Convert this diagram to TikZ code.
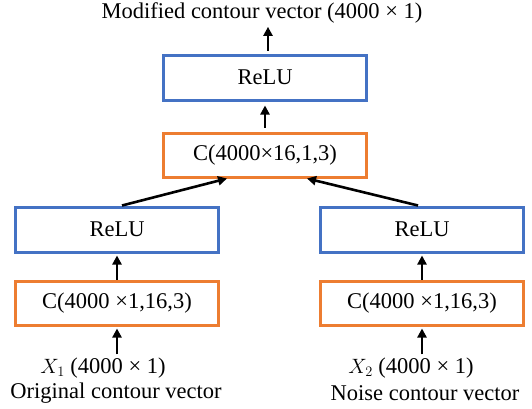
\documentclass[tikz,border=0pt]{standalone}
\usepackage{fontspec}
\setmainfont{Liberation Serif}
\usetikzlibrary{arrows.meta}
\definecolor{relublue}{RGB}{68,114,196}
\definecolor{convorange}{RGB}{237,125,49}

\begin{document}
\begin{tikzpicture}[x=1pt, y=-1pt, every node/.style={font=\fontsize{22.5}{26}\selectfont},
  relubox/.style={draw=relublue, line width=3pt, minimum width=203pt, minimum height=45pt},
  convbox/.style={draw=convorange, line width=3pt, minimum width=203pt, minimum height=44pt},
  arr/.style={-{Triangle[length=9pt,width=9pt]}, line width=2.6pt}]
\useasboundingbox (0,0) rectangle (532,408);
% two input branches
\node[convbox] (c1) at (117,303) {C(4000 ×1,16,3)};
\node[relubox] (relu1) at (117,229.5) {ReLU};
\node (in1) at (103,368) {$X_1$ (4000 × 1)};
\node (lab1) at (116,393) {Original contour vector};
\node[convbox] (c2) at (422,303) {C(4000 ×1,16,3)};
\node[relubox] (relu2) at (422,229.5) {ReLU};
\node (in2) at (411,368) {$X_2$ (4000 × 1)};
\node (lab2) at (425,393) {Noise contour vector};
% merged part
\node[convbox] (ctop) at (265,155) {C(4000×16,1,3)};
\node[relubox] (relu3) at (265,77.5) {ReLU};
\node (out) at (262,13) {Modified contour vector (4000 × 1)};

\draw[arr, shorten >=2pt] (in1.north -| c1.south) -- (c1.south);
\draw[arr, shorten >=2pt] (in2.north -| c2.south) -- (c2.south);
\draw[arr, shorten >=2pt] (c1.north) -- (relu1.south);
\draw[arr, shorten >=2pt] (c2.north) -- (relu2.south);
\draw[arr] ([xshift=5pt]relu1.north) -- ([xshift=-38pt]ctop.south);
\draw[arr] ([xshift=-4pt]relu2.north) -- ([xshift=42pt]ctop.south);
\draw[arr, shorten <=4pt, shorten >=4pt] (ctop.north) -- (relu3.south);
\draw[arr, shorten <=3pt] ([xshift=3pt]relu3.north) -- ([xshift=3pt]relu3.north |- out.south);
\end{tikzpicture}
\end{document}
